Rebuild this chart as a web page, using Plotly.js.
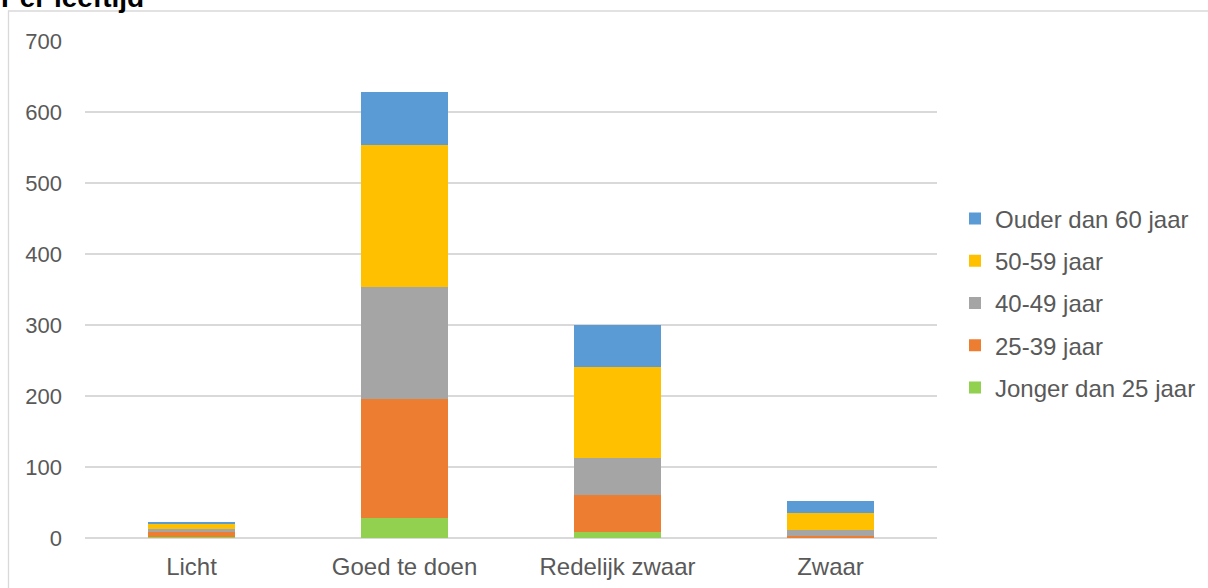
<!DOCTYPE html>
<html>
<head>
<meta charset="utf-8">
<script src="https://cdn.plot.ly/plotly-3.0.1.min.js"></script>
<style>
html,body{margin:0;padding:0;background:#fff;}
#chart{width:1208px;height:588px;}
</style>
</head>
<body>
<div id="chart"></div>
<script>
var categories = ["Licht", "Goed te doen", "Redelijk zwaar", "Zwaar"];
var jongerDan25 = [1, 28, 8, 0];
var jaar25_39 = [7, 168, 52, 3];
var jaar40_49 = [5, 158, 52, 8];
var jaar50_59 = [7, 200, 129, 24];
var ouderDan60 = [3, 74, 59, 17];
var seriesNames = ["Jonger dan 25 jaar", "25-39 jaar", "40-49 jaar", "50-59 jaar", "Ouder dan 60 jaar"];
var seriesColors = ["#92D050", "#ED7D31", "#A5A5A5", "#FFC000", "#5B9BD5"];
var yTicks = [0, 100, 200, 300, 400, 500, 600, 700];
var chartTitle = "Per leeftijd";

var seriesValues = [jongerDan25, jaar25_39, jaar40_49, jaar50_59, ouderDan60];
var traces = seriesValues.map(function (vals, i) {
  return {
    type: "bar",
    name: seriesNames[i],
    x: categories,
    y: vals,
    legendgroup: "g" + i,
    legendrank: 1000 - i,
    marker: { color: seriesColors[i], line: { width: 0 } },
    hoverinfo: "x+y+name"
  };
});

// plot area in pixels: x 85..937, y 41..538
var L = 85, R = 937, T = 41, B = 538, W = 1208, H = 588;
function px(x) { return (x - L) / (R - L); }
function py(y) { return (B - y) / (B - T); }

var layout = {
  width: W,
  height: H,
  margin: { l: L, r: W - R, t: T, b: H - B, pad: 0, autoexpand: false },
  paper_bgcolor: "#ffffff",
  plot_bgcolor: "#ffffff",
  barmode: "stack",
  bargap: 0.596,
  font: { family: "Liberation Sans, Arial, sans-serif", color: "#595959", size: 24 },
  annotations: [
    {
      text: chartTitle,
      font: { family: "Liberation Sans, Arial, sans-serif", size: 28, color: "#000000", weight: "bold" },
      xref: "paper", yref: "paper",
      x: px(0), xanchor: "left",
      y: py(14), yanchor: "bottom",
      showarrow: false, borderpad: 0
    }
  ],
  xaxis: {
    type: "category",
    showgrid: false,
    zeroline: false,
    showline: false,
    ticks: "",
    tickfont: { size: 24, color: "#595959" },
    ticklabelstandoff: 12
  },
  yaxis: {
    range: [0, 700],
    tickvals: yTicks,
    ticktext: yTicks.map(String),
    showgrid: true,
    gridcolor: "#d9d9d9",
    gridwidth: 1.3,
    zeroline: true,
    zerolinecolor: "#d9d9d9",
    zerolinewidth: 1.6,
    showline: false,
    ticks: "",
    tickfont: { size: 22, color: "#595959" },
    ticklabelstandoff: 22
  },
  legend: {
    x: px(955), xanchor: "left",
    y: py(303), yanchor: "middle",
    traceorder: "grouped",
    tracegroupgap: 8,
    font: { size: 24, color: "#595959" },
    bgcolor: "rgba(0,0,0,0)",
    itemclick: false
  },
  shapes: [
    {
      type: "rect", xref: "paper", yref: "paper", layer: "below",
      x0: px(8.5), x1: px(1215), y0: py(595), y1: py(11),
      line: { color: "#d9d9d9", width: 1.3 }, fillcolor: "rgba(0,0,0,0)"
    }
  ],
  showlegend: true
};

Plotly.newPlot("chart", traces, layout, { displayModeBar: false, staticPlot: true });
</script>
</body>
</html>
